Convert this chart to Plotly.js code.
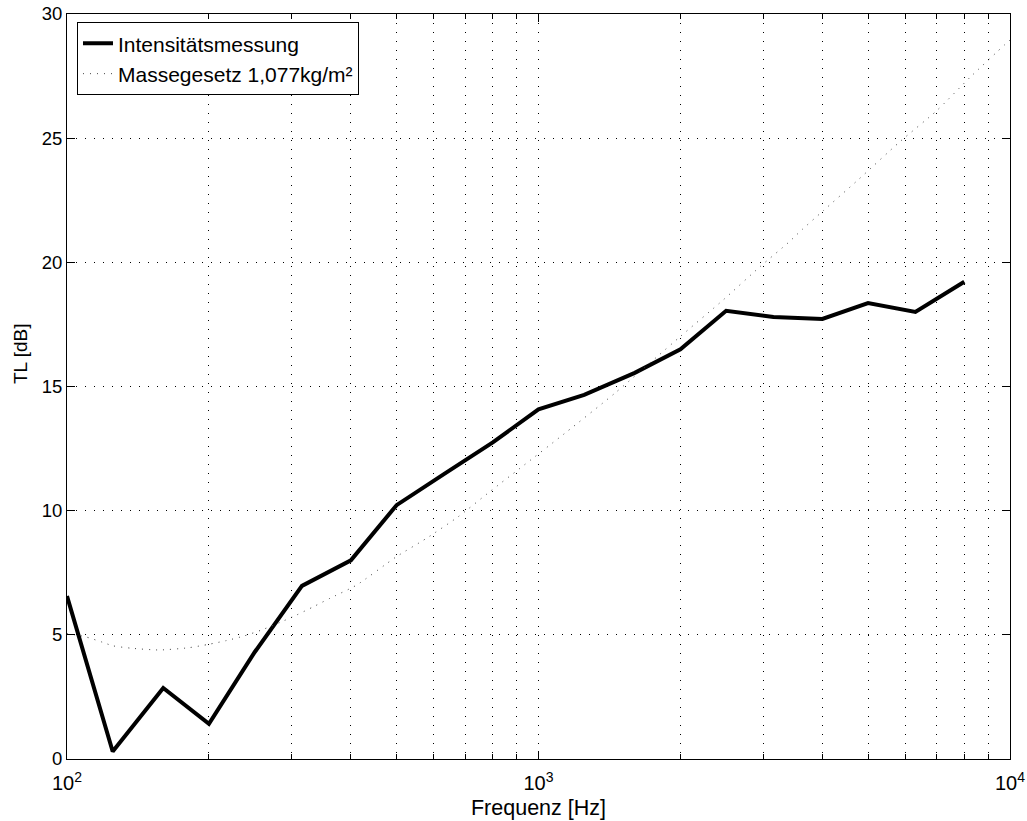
<!DOCTYPE html>
<html>
<head>
<meta charset="utf-8">
<script src="https://cdn.plot.ly/plotly-3.0.1.min.js"></script>
<style>html,body{margin:0;padding:0;background:#fff;}#chart{width:1027px;height:821px;}</style>
</head>
<body>
<div id="chart"></div>
<script>
// Measured transmission loss (1/3-octave bands)
const freqMeas = [100,125,160,200,250,315,400,500,630,800,1000,1250,1600,2000,2500,3150,4000,5000,6300,8000];
const tlMeas   = [6.56,0.3,2.86,1.42,4.3,6.97,8.0,10.22,11.47,12.75,14.08,14.66,15.55,16.5,18.05,17.8,17.72,18.36,18.0,19.22];

// Mass law curve
const freqMass = [100,109,119,125,137,157,181,200,218,237,259,283,307,333,361,411,500,579,676,789,914,1138,1452,1995,2466,2952,3390,3614,4018,4768,5843,6994,8227,9755,10000];
const tlMass   = [5.05,4.93,4.70,4.56,4.46,4.39,4.48,4.62,4.77,4.95,5.2,5.5,5.8,6.13,6.47,7.0,8.15,8.89,9.76,10.77,11.71,13.12,14.73,17.0,18.49,19.83,20.8,21.3,22.08,23.33,24.86,26.11,27.45,28.77,28.95];

const xMajor = [100,1000,10000];
const xMajorText = ['10<sup>2</sup>','10<sup>3</sup>','10<sup>4</sup>'];
const xMinor = [200,300,400,500,600,700,800,900,2000,3000,4000,5000,6000,7000,8000,9000];
const yTicks = [0,5,10,15,20,25,30];

const names = ['Intensitätsmessung','Massegesetz 1,077kg/m²'];
const xTitle = 'Frequenz [Hz]';
const yTitle = 'TL [dB]';

const traces = [
  {x: freqMeas, y: tlMeas, name: names[0], type:'scatter', mode:'lines',
   line:{color:'#000', width:4}},
  {x: freqMass, y: tlMass, name: names[1], type:'scatter', mode:'lines',
   line:{color:'#444', width:1, dash:'1px,6px', shape:'spline', smoothing:0.6}}
];

const fam = '"Liberation Sans", Arial, Helvetica, sans-serif';

const layout = {
  width:1027, height:821,
  margin:{l:67, r:17, t:14, b:62},
  paper_bgcolor:'#fff', plot_bgcolor:'#fff',
  font: {family:fam, size:19, color:'#000'},
  showlegend:true,
  legend:{x:0.0106, y:0.989, xanchor:'left', yanchor:'top', bgcolor:'#fff',
          bordercolor:'#000', borderwidth:1, font:{family:fam, size:21, color:'#000'},
          tracegroupgap:0, itemwidth:30},
  xaxis:{type:'log', range:[2,4], tickmode:'array', tickvals:xMajor, ticktext:xMajorText,
         ticks:'inside', ticklen:8, tickcolor:'#000', showline:true, linecolor:'#000', linewidth:1,
         mirror:'allticks', showgrid:true, gridcolor:'#000', griddash:'1px,8px', gridwidth:1,
         zeroline:false, ticklabelstandoff:6, tickfont:{family:fam, size:20, color:'#000'},
         title:{text:xTitle, font:{family:fam, size:21.5, color:'#000'}, standoff:6},
         minor:{tickmode:'array', tickvals:xMinor, ticks:'inside', ticklen:5, tickcolor:'#000',
                showgrid:true, gridcolor:'#000', griddash:'1px,8px', gridwidth:1}},
  yaxis:{range:[0,30], tickmode:'array', tickvals:yTicks,
         ticks:'inside', ticklen:8, tickcolor:'#000', showline:true, linecolor:'#000', linewidth:1,
         mirror:'allticks', showgrid:true, gridcolor:'#000', griddash:'1px,8px', gridwidth:1,
         zeroline:false, tickfont:{family:fam, size:18.5, color:'#000'}},
  annotations:[{text:yTitle, textangle:-90, xref:'paper', yref:'paper', x:-0.0498, y:0.5436,
                xanchor:'center', yanchor:'middle', showarrow:false,
                font:{family:fam, size:19, color:'#000'}}]
};

Plotly.newPlot('chart', traces, layout, {displayModeBar:false, staticPlot:true});
</script>
</body>
</html>
